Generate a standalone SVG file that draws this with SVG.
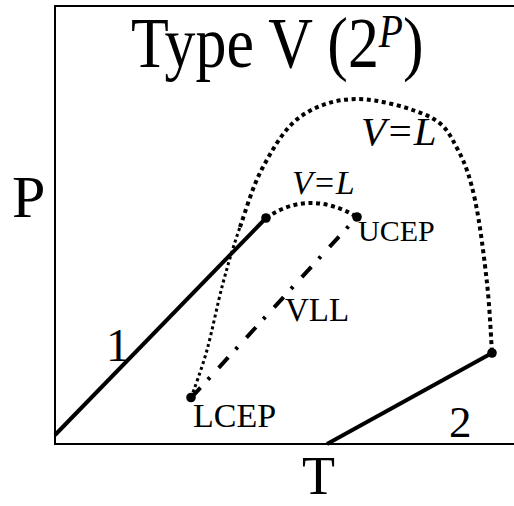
<svg xmlns="http://www.w3.org/2000/svg" width="514" height="506" viewBox="0 0 514 506">
<style>
  .frame{fill:none;stroke:#000;stroke-width:2}
  .solid{fill:none;stroke:#000;stroke-width:4;stroke-linecap:butt}
  .dot{fill:none;stroke:#000;stroke-width:4;stroke-dasharray:4 3.6}
  .dotthin{fill:none;stroke:#000;stroke-width:3;stroke-dasharray:3 3}
  .dashdot{fill:none;stroke:#000;stroke-width:4;stroke-dasharray:14 11 3 13}
  .pt{fill:#000}
  text{font-family:"Liberation Serif","Times New Roman",serif;fill:#000}
  .it{font-style:italic}
</style>
<rect width="514" height="506" fill="#fff"/>
<g id="frame">
  <path class="frame" d="M514,6 H55 V444 H514"/>
</g>
<g id="title">
  <text transform="translate(131,67) scale(0.86,1)" font-size="72">Type V (2<tspan class="it" font-size="46" dy="-20">P</tspan><tspan dy="20">)</tspan></text>
</g>
<g id="axis-labels">
  <text x="12" y="217" font-size="60">P</text>
  <text x="302" y="494" font-size="54">T</text>
</g>
<g id="connectors">
  <path class="solid" d="M55,435 L266,218"/>
  <path class="solid" d="M327,444 L492,353"/>
  <path class="dotthin" d="M191,398 C193.7,390 201.7,369.2 207,350 C212.3,330.8 217.5,303.5 223,283 C228.5,262.5 233.3,246.3 240,227"/>
  <path class="dot" d="M240,227 C246.7,207.7 253,185.3 263,167 C273,148.7 284.3,128.3 300,117 C315.7,105.7 335.3,99 357,99 C378.7,99 413.2,108.5 430,117 C446.8,125.5 450.5,136.2 458,150 C465.5,163.8 470.2,177.8 475,200 C479.8,222.2 484.2,257.5 487,283 C489.8,308.5 491.2,341.3 492,353"/>
  <path class="dot" d="M266,218 Q309,188.5 357,217"/>
  <path class="dashdot" d="M191,398 L357,217"/>
</g>
<g id="node-1">
  <circle class="pt" cx="266" cy="218" r="4.8"/>
  <text x="106" y="361" font-size="47">1</text>
</g>
<g id="node-UCEP">
  <circle class="pt" cx="357" cy="217" r="4.8"/>
  <text x="358" y="241" font-size="30">UCEP</text>
</g>
<g id="node-LCEP">
  <circle class="pt" cx="191" cy="397.5" r="4.8"/>
  <text x="193" y="427" font-size="34">LCEP</text>
</g>
<g id="node-2">
  <circle class="pt" cx="492" cy="353" r="4.8"/>
  <text x="449" y="437" font-size="45">2</text>
</g>
<g id="labels">
  <text class="it" x="361" y="145" font-size="41">V=L</text>
  <text class="it" x="292" y="194" font-size="34">V=L</text>
  <text x="285" y="321" font-size="33">VLL</text>
</g>
</svg>
